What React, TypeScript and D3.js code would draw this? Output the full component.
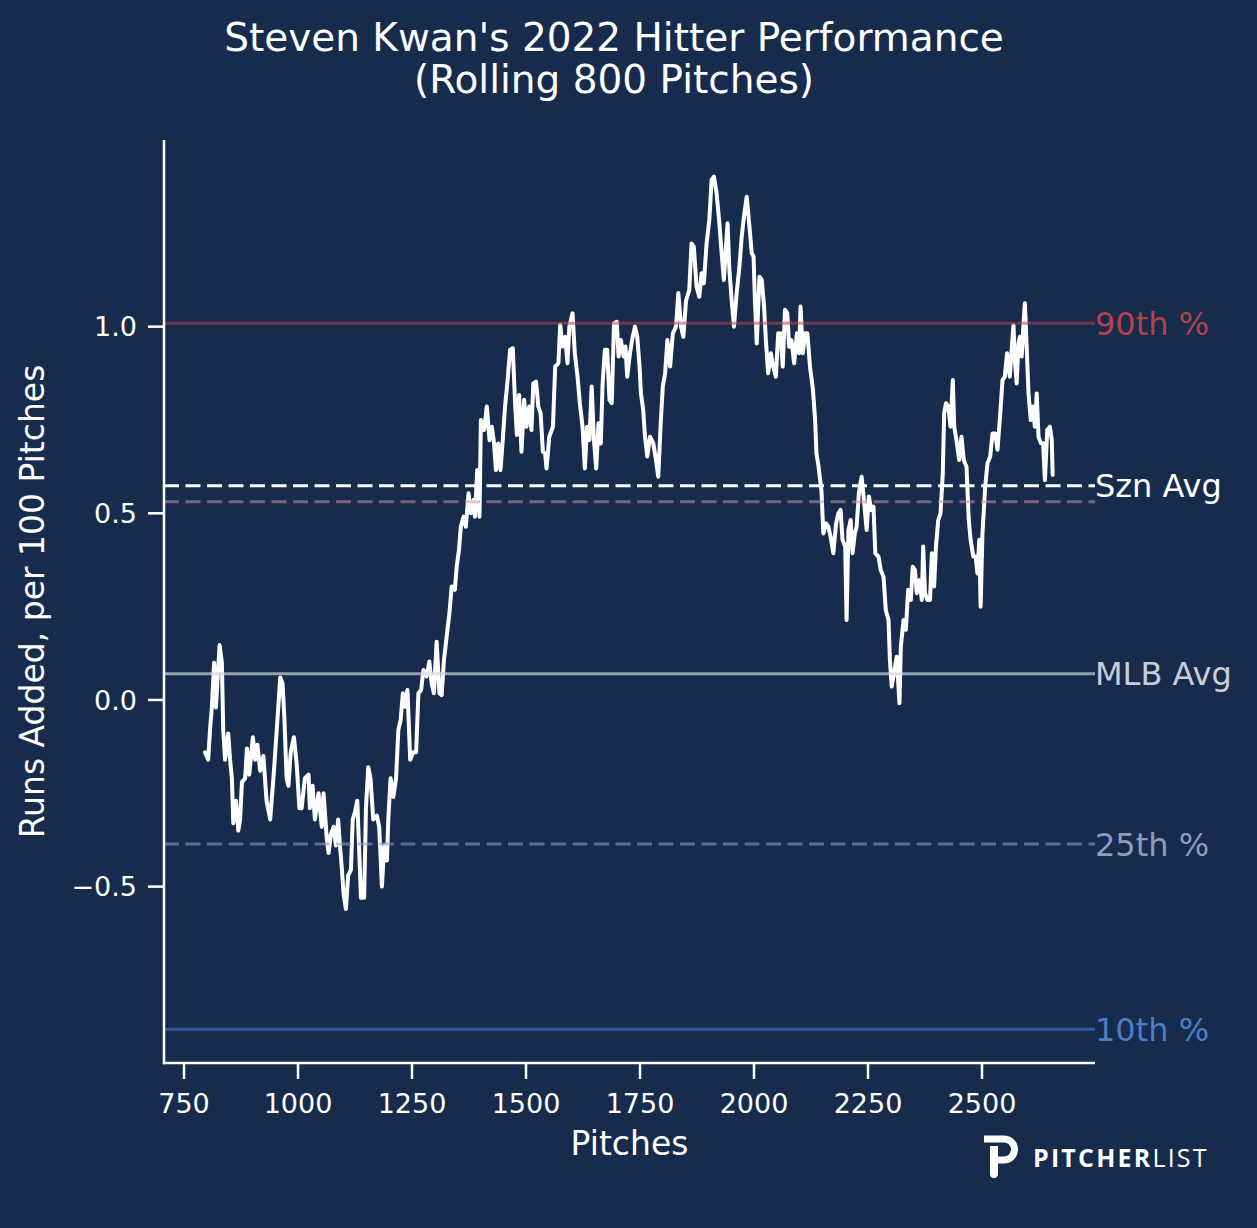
import React, { useEffect } from "react"
import * as d3 from "d3"

// rolling 800-pitch runs added per 100 pitches
const pitches = [
  796, 803, 807, 811, 816, 820, 828, 833, 836, 840, 847, 851, 855, 858, 864, 869, 873, 877, 884, 888,
  893, 901, 906, 911, 917, 924, 931, 939, 946, 950, 955, 961, 966, 970, 975, 979, 984, 991, 997, 1003,
  1008, 1015, 1023, 1026, 1032, 1037, 1045, 1052, 1056, 1063, 1067, 1072, 1078, 1083, 1088, 1092, 1096, 1100, 1105, 1110,
  1116, 1120, 1125, 1130, 1135, 1138, 1145, 1149, 1154, 1159, 1165, 1173, 1178, 1184, 1189, 1195, 1198, 1203, 1209, 1215,
  1220, 1225, 1230, 1235, 1240, 1246, 1253, 1259, 1264, 1270, 1275, 1282, 1288, 1293, 1298, 1304, 1310, 1315, 1320, 1326,
  1332, 1337, 1344, 1348, 1353, 1357, 1363, 1368, 1374, 1379, 1385, 1388, 1393, 1398, 1401, 1408, 1414, 1420, 1425, 1430,
  1434, 1439, 1444, 1449, 1454, 1459, 1465, 1471, 1476, 1480, 1485, 1490, 1496, 1501, 1507, 1512, 1516, 1522, 1527, 1532,
  1537, 1542, 1545, 1551, 1559, 1564, 1571, 1575, 1580, 1586, 1591, 1595, 1602, 1607, 1613, 1618, 1624, 1629, 1634, 1639,
  1644, 1649, 1654, 1659, 1664, 1668, 1673, 1678, 1683, 1688, 1693, 1699, 1703, 1708, 1714, 1718, 1722, 1728, 1734, 1739,
  1744, 1749, 1752, 1757, 1761, 1766, 1772, 1779, 1785, 1790, 1795, 1800, 1805, 1810, 1816, 1822, 1829, 1834, 1840, 1845,
  1851, 1858, 1863, 1868, 1874, 1880, 1885, 1890, 1896, 1902, 1907, 1912, 1918, 1924, 1929, 1934, 1938, 1942, 1946, 1951,
  1956, 1962, 1968, 1973, 1978, 1984, 1990, 1995, 1999, 2002, 2006, 2012, 2017, 2022, 2026, 2031, 2037, 2042, 2048, 2053,
  2058, 2063, 2068, 2073, 2077, 2082, 2088, 2094, 2099, 2102, 2107, 2112, 2117, 2123, 2129, 2134, 2137, 2141, 2148, 2152,
  2158, 2163, 2168, 2174, 2180, 2185, 2190, 2194, 2200, 2203, 2207, 2212, 2216, 2221, 2225, 2230, 2236, 2241, 2247, 2252,
  2257, 2262, 2266, 2273, 2278, 2284, 2289, 2295, 2298, 2302, 2307, 2313, 2319, 2322, 2328, 2333, 2338, 2344, 2348, 2353,
  2357, 2363, 2368, 2371, 2375, 2380, 2386, 2390, 2395, 2399, 2404, 2409, 2414, 2417, 2421, 2426, 2431, 2436, 2439, 2444,
  2450, 2455, 2460, 2466, 2471, 2475, 2481, 2486, 2490, 2494, 2497, 2501, 2507, 2512, 2518, 2523, 2529, 2534, 2540, 2545,
  2550, 2555, 2561, 2565, 2569, 2572, 2576, 2580, 2583, 2587, 2591, 2594, 2598, 2602, 2607, 2611, 2616, 2620, 2624, 2629,
  2634, 2638, 2643, 2649, 2653, 2655,
]

const runsAdded = [
  -0.14, -0.16, -0.08, -0.02, 0.1, -0.02, 0.147, 0.1, -0.08, -0.16, -0.09, -0.16, -0.21, -0.33, -0.27, -0.35, -0.32, -0.22, -0.21, -0.13,
  -0.2, -0.1, -0.16, -0.12, -0.19, -0.15, -0.27, -0.32, -0.21, -0.14, -0.05, 0.06, 0.045, -0.045, -0.21, -0.23, -0.14, -0.1, -0.17, -0.29,
  -0.29, -0.21, -0.2, -0.29, -0.23, -0.32, -0.25, -0.34, -0.25, -0.37, -0.41, -0.36, -0.34, -0.39, -0.32, -0.39, -0.45, -0.52, -0.56, -0.47,
  -0.455, -0.32, -0.3, -0.27, -0.43, -0.53, -0.53, -0.29, -0.18, -0.21, -0.32, -0.31, -0.34, -0.5, -0.39, -0.43, -0.32, -0.21, -0.26, -0.21,
  -0.08, -0.054, 0.018, -0.018, 0.027, -0.16, -0.14, -0.14, 0.018, 0.027, 0.08, 0.063, 0.103, 0.045, 0.018, 0.156, 0.018, 0.013, 0.107, 0.17,
  0.232, 0.304, 0.295, 0.357, 0.402, 0.464, 0.491, 0.464, 0.554, 0.5, 0.536, 0.491, 0.616, 0.491, 0.75, 0.723, 0.786, 0.696, 0.732, 0.687,
  0.616, 0.687, 0.616, 0.696, 0.786, 0.848, 0.938, 0.942, 0.795, 0.71, 0.817, 0.665, 0.804, 0.732, 0.786, 0.723, 0.848, 0.853, 0.786, 0.768,
  0.665, 0.66, 0.62, 0.705, 0.732, 0.893, 0.902, 1.005, 0.947, 0.973, 0.902, 1.0, 1.036, 0.929, 0.866, 0.795, 0.732, 0.62, 0.732, 0.696,
  0.84, 0.696, 0.62, 0.741, 0.687, 0.848, 0.938, 0.938, 0.804, 0.795, 1.009, 1.013, 0.92, 0.964, 0.92, 0.947, 0.866, 0.929, 0.973, 1.0,
  0.973, 0.893, 0.821, 0.777, 0.705, 0.652, 0.705, 0.688, 0.643, 0.598, 0.732, 0.84, 0.875, 0.964, 0.893, 0.982, 1.0, 1.09, 1.0, 0.973,
  1.07, 1.098, 1.223, 1.214, 1.107, 1.08, 1.143, 1.116, 1.223, 1.286, 1.393, 1.402, 1.357, 1.277, 1.197, 1.125, 1.205, 1.277, 1.152, 1.07,
  1.0, 1.09, 1.161, 1.241, 1.295, 1.348, 1.268, 1.197, 1.188, 1.07, 0.955, 1.134, 1.125, 1.054, 0.964, 0.875, 0.929, 0.893, 0.866, 0.982,
  0.982, 0.893, 1.045, 1.036, 0.946, 0.964, 0.902, 0.982, 0.929, 1.054, 0.929, 0.982, 0.982, 0.89, 0.835, 0.75, 0.66, 0.63, 0.56, 0.446,
  0.473, 0.464, 0.437, 0.393, 0.473, 0.5, 0.509, 0.429, 0.411, 0.214, 0.455, 0.482, 0.393, 0.446, 0.464, 0.554, 0.598, 0.536, 0.455, 0.545,
  0.509, 0.518, 0.393, 0.384, 0.348, 0.33, 0.241, 0.214, 0.107, 0.036, 0.071, 0.116, -0.009, 0.143, 0.214, 0.188, 0.295, 0.268, 0.357, 0.348,
  0.286, 0.321, 0.268, 0.411, 0.286, 0.268, 0.268, 0.393, 0.304, 0.411, 0.482, 0.5, 0.607, 0.768, 0.795, 0.786, 0.732, 0.857, 0.732, 0.696,
  0.643, 0.705, 0.643, 0.625, 0.482, 0.429, 0.384, 0.384, 0.339, 0.429, 0.25, 0.446, 0.571, 0.634, 0.652, 0.714, 0.714, 0.67, 0.768, 0.857,
  0.866, 0.929, 0.866, 0.938, 1.004, 0.911, 0.848, 0.955, 0.973, 0.92, 1.009, 1.063, 0.946, 0.821, 0.75, 0.786, 0.732, 0.821, 0.705, 0.688,
  0.688, 0.589, 0.723, 0.732, 0.696, 0.603,
]

// reference lines (label, value)
const refLabels = ["90th %", "Szn Avg", "", "MLB Avg", "25th %", "10th %"]
const refValues = [1.009, 0.574, 0.531, 0.07, -0.386, -0.882]

const xTicks = [750, 1000, 1250, 1500, 1750, 2000, 2250, 2500]
const yTicks = [-0.5, 0, 0.5, 1.0]

const BG = "#172b4d"
const FONT = "'DejaVu Sans', sans-serif"

const refStyles = [
  { stroke: "#c0404a", opacity: 0.55, dash: "", text: "#b5424b" },
  { stroke: "#ffffff", opacity: 1, dash: "15,6.5", text: "#ffffff" },
  { stroke: "#c9959f", opacity: 0.55, dash: "15,6.5", text: "#c9959f" },
  { stroke: "#d0d3da", opacity: 0.7, dash: "", text: "#c9cdd7" },
  { stroke: "#8a9cc0", opacity: 0.6, dash: "15,6.5", text: "#8d9dbf" },
  { stroke: "#3a70c0", opacity: 0.7, dash: "", text: "#4d7ec4" },
]

const W = 1257
const H = 1228
const left = 164
const right = 1095
const top = 140
const bottom = 1063

export default function App() {
  useEffect(() => {
    document.body.style.margin = "0"
    document.body.style.background = BG
  }, [])

  const x = d3.scaleLinear().domain([706.1, 2747.8]).range([left, right])
  const y = d3.scaleLinear().domain([-0.9725, 1.5]).range([bottom, top])

  const pts: [number, number][] = pitches.map((p, i) => [p, runsAdded[i]])
  const line = d3
    .line<[number, number]>()
    .x((d) => x(d[0]))
    .y((d) => y(d[1]))

  const fmtY = (v: number) => d3.format(".1f")(v).replace("-", "\u2212")

  return (
    <svg width={W} height={H} style={{ display: "block", background: BG }} fontFamily={FONT}>
      <rect x={0} y={0} width={W} height={H} fill={BG} />

      <text x={614} y={51} fill="#fff" fontSize={39} textAnchor="middle">
        Steven Kwan's 2022 Hitter Performance
      </text>
      <text x={614} y={93} fill="#fff" fontSize={39} textAnchor="middle">
        (Rolling 800 Pitches)
      </text>

      <path
        d={line(pts) ?? ""}
        fill="none"
        stroke="#fff"
        strokeWidth={4}
        strokeLinejoin="round"
        strokeLinecap="round"
      />

      {refValues.map((v, i) => (
        <g key={i}>
          <line
            x1={left}
            x2={right}
            y1={y(v)}
            y2={y(v)}
            stroke={refStyles[i].stroke}
            strokeOpacity={refStyles[i].opacity}
            strokeWidth={3}
            strokeDasharray={refStyles[i].dash || undefined}
          />
          {refLabels[i] && (
            <text x={right} y={y(v) + 11.5} fill={refStyles[i].text} fontSize={32}>
              {refLabels[i]}
            </text>
          )}
        </g>
      ))}

      {/* axes */}
      <line x1={left} x2={left} y1={top} y2={bottom + 1.2} stroke="#fff" strokeWidth={2.5} />
      <line x1={left - 1.2} x2={right} y1={bottom} y2={bottom} stroke="#fff" strokeWidth={2.5} />

      {yTicks.map((t) => (
        <g key={t}>
          <line x1={left - 16} x2={left} y1={y(t)} y2={y(t)} stroke="#fff" strokeWidth={2.5} />
          <text x={left - 27} y={y(t) + 9.8} fill="#fff" fontSize={27} textAnchor="end">
            {fmtY(t)}
          </text>
        </g>
      ))}

      {xTicks.map((t) => (
        <g key={t}>
          <line x1={x(t)} x2={x(t)} y1={bottom} y2={bottom + 16} stroke="#fff" strokeWidth={2.5} />
          <text x={x(t)} y={1113} fill="#fff" fontSize={27} textAnchor="middle">
            {t}
          </text>
        </g>
      ))}

      <text x={(left + right) / 2} y={1155} fill="#fff" fontSize={33} textAnchor="middle">
        Pitches
      </text>
      <text
        transform={`translate(44,${(top + bottom) / 2}) rotate(-90)`}
        fill="#fff"
        fontSize={33}
        textAnchor="middle"
      >
        Runs Added, per 100 Pitches
      </text>

      {/* pitcher list logo */}
      <g>
        <path
          d="M984,1139 L1004,1139 A10.5,10.5 0 0 1 1004,1160 L997,1160"
          fill="none"
          stroke="#fff"
          strokeWidth={7}
        />
        <path d="M990,1146 L998,1146 L998,1174 A4,4 0 0 1 990,1174 Z" fill="#fff" />
        <text x={1033} y={1167} fill="#fff" fontSize={25} fontFamily="'Open Sans', sans-serif" letterSpacing={2.2}>
          <tspan fontWeight={700}>PITCHER</tspan>
          <tspan fontWeight={400}>LIST</tspan>
        </text>
      </g>
    </svg>
  )
}
